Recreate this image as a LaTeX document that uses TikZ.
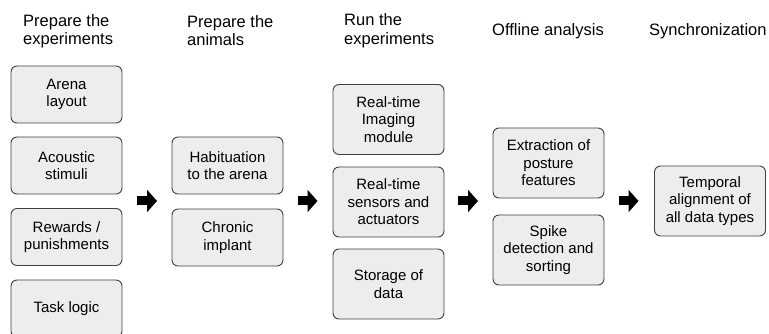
\documentclass[tikz,border=0pt]{standalone}
\usepackage{fontspec}
\setmainfont{Liberation Sans}
\usetikzlibrary{arrows.meta}

\begin{document}
\begin{tikzpicture}[x=1pt, y=-1pt,
	stepbox/.style={rectangle, rounded corners=6pt, draw=black!75, line width=0.9pt, fill=black!7, minimum width=111pt, inner sep=0pt, align=center, font=\fontsize{15}{17.5}\selectfont},
	shortbox/.style={stepbox, minimum height=57pt},
	tallbox/.style={stepbox, minimum height=70pt},
	heading/.style={anchor=base west, inner sep=0pt, align=left, font=\fontsize{16.5}{18.5}\selectfont},
	fatarrow/.style={line width=9pt, -{Triangle[length=10pt, width=22pt]}}]

		\useasboundingbox (0,0) rectangle (769,334);
		\clip (0,0) rectangle (769,334);

		\path (23,45) node[heading] (hexp) {Prepare the\\experiments}
  		(187,46) node[heading] (hani) {Prepare the\\animals}
  		(344,44.5) node[heading] (hrun) {Run the\\experiments}
  		(492,36) node[heading] (hoff) {Offline analysis}
  		(649,36) node[heading] (hsyn) {Synchronization};

		\path (66.5,94.5) node[shortbox] (arena) {Arena\\layout}
  		(66.5,165.5) node[shortbox] (acoustic) {Acoustic\\stimuli}
  		(66.5,237) node[shortbox] (rewards) {Rewards /\\punishments}
  		(66.5,308.5) node[shortbox] (logic) {Task logic}
  		(227.5,165.5) node[shortbox] (habit) {Habituation\\to the arena}
  		(227.5,237.5) node[shortbox] (implant) {Chronic\\implant}
  		(388.5,119.5) node[tallbox] (imaging) {Real-time\\Imaging\\module}
  		(388.5,202) node[tallbox] (sensors) {Real-time\\sensors and\\actuators}
  		(388.5,284) node[tallbox] (storage) {Storage of\\data}
  		(548.5,163) node[tallbox] (posture) {Extraction of\\posture\\features}
  		(548.5,250) node[tallbox] (spike) {Spike\\detection and\\sorting}
  		(710,201) node[tallbox] (align) {Temporal\\alignment of\\all data types};

		\coordinate (a1) at (137,201);
		\coordinate (b1) at (157,201);
		\coordinate (a2) at (297.5,201);
		\coordinate (b2) at (317.5,201);
		\coordinate (a3) at (458,201);
		\coordinate (b3) at (478,201);
		\coordinate (a4) at (618.5,201);
		\coordinate (b4) at (638.5,201);

		\draw[fatarrow] (a1) -- (b1);
		\draw[fatarrow] (a2) -- (b2);
		\draw[fatarrow] (a3) -- (b3);
		\draw[fatarrow] (a4) -- (b4);
	\end{tikzpicture}
\end{document}
